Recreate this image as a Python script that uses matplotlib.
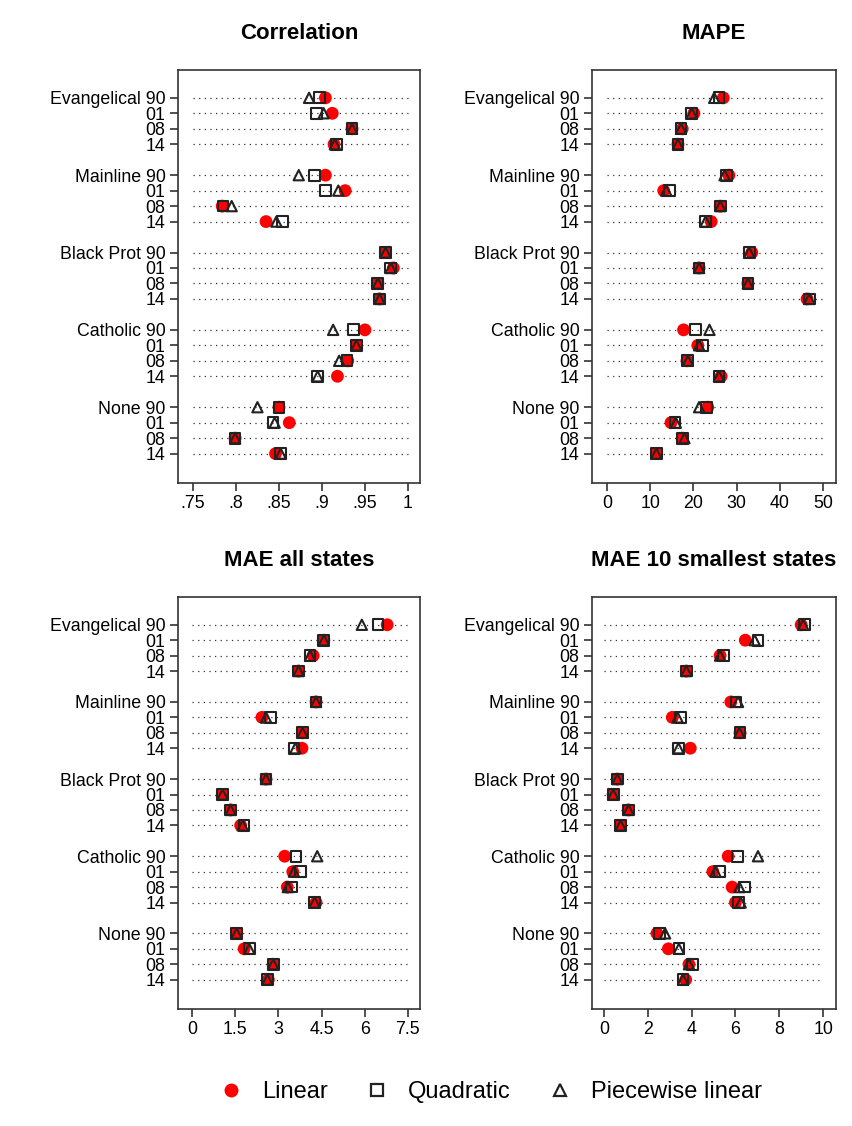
import matplotlib
matplotlib.use('Agg')
from matplotlib import pyplot as plt
from matplotlib.lines import Line2D

plt.rcParams['font.family'] = ['Liberation Sans', 'DejaVu Sans']

groups = ['Evangelical', 'Mainline', 'Black Prot', 'Catholic', 'None']
years = ['90', '01', '08', '14']

# values per panel, listed group by group (90, 01, 08, 14)
corr_linear = [0.904, 0.912, 0.935, 0.914,
               0.904, 0.927, 0.784, 0.835,
               0.974, 0.983, 0.965, 0.967,
               0.950, 0.940, 0.930, 0.918,
               0.850, 0.862, 0.799, 0.846]
corr_quad = [0.897, 0.894, 0.935, 0.917,
             0.891, 0.904, 0.785, 0.854,
             0.974, 0.980, 0.965, 0.967,
             0.937, 0.940, 0.929, 0.895,
             0.850, 0.843, 0.799, 0.852]
corr_piece = [0.885, 0.902, 0.935, 0.915,
              0.873, 0.919, 0.795, 0.847,
              0.974, 0.980, 0.965, 0.967,
              0.913, 0.940, 0.920, 0.895,
              0.825, 0.845, 0.799, 0.852]

mape_linear = [26.9, 20.1, 17.4, 16.4,
               28.2, 13.1, 26.2, 24.1,
               33.5, 21.3, 32.6, 46.3,
               17.7, 21.0, 18.5, 26.4,
               23.3, 14.8, 17.4, 11.4]
mape_quad = [25.9, 19.6, 17.1, 16.4,
             27.7, 14.5, 26.2, 22.7,
             32.9, 21.3, 32.6, 46.8,
             20.4, 22.1, 18.7, 25.9,
             23.0, 15.7, 17.4, 11.4]
mape_piece = [24.8, 19.6, 17.1, 16.4,
              27.2, 13.7, 26.2, 22.8,
              32.9, 21.3, 32.6, 46.8,
              23.7, 21.3, 18.7, 25.9,
              21.3, 15.9, 17.9, 11.4]

mae_linear = [6.78, 4.58, 4.21, 3.70,
              4.31, 2.43, 3.84, 3.82,
              2.57, 1.06, 1.34, 1.69,
              3.22, 3.50, 3.31, 4.31,
              1.55, 1.81, 2.82, 2.65]
mae_quad = [6.46, 4.58, 4.10, 3.70,
            4.31, 2.73, 3.84, 3.54,
            2.57, 1.06, 1.34, 1.81,
            3.61, 3.77, 3.45, 4.26,
            1.55, 2.01, 2.82, 2.62]
mae_piece = [5.90, 4.58, 4.10, 3.70,
             4.31, 2.57, 3.84, 3.59,
             2.57, 1.06, 1.34, 1.76,
             4.35, 3.54, 3.33, 4.26,
             1.55, 1.99, 2.82, 2.62]

small_linear = [9.00, 6.45, 5.30, 3.76,
                5.79, 3.12, 6.21, 3.94,
                0.61, 0.42, 1.12, 0.76,
                5.67, 4.97, 5.85, 6.00,
                2.42, 2.94, 3.88, 3.73]
small_quad = [9.15, 7.03, 5.45, 3.76,
              6.03, 3.51, 6.21, 3.39,
              0.61, 0.42, 1.12, 0.76,
              6.09, 5.27, 6.40, 6.15,
              2.52, 3.42, 4.03, 3.61]
small_piece = [9.09, 6.88, 5.30, 3.76,
               6.12, 3.36, 6.18, 3.40,
               0.61, 0.42, 1.12, 0.76,
               7.03, 5.09, 6.18, 6.24,
               2.79, 3.42, 3.88, 3.61]

panels = [
    ('Correlation', corr_linear, corr_quad, corr_piece,
     [0.75, 0.8, 0.85, 0.9, 0.95, 1.0],
     ['.75', '.8', '.85', '.9', '.95', '1'], (0.7326, 1.0140)),
    ('MAPE', mape_linear, mape_quad, mape_piece,
     [0, 10, 20, 30, 40, 50],
     ['0', '10', '20', '30', '40', '50'], (-3.5, 53.0)),
    ('MAE all states', mae_linear, mae_quad, mae_piece,
     [0, 1.5, 3, 4.5, 6, 7.5],
     ['0', '1.5', '3', '4.5', '6', '7.5'], (-0.486, 7.92)),
    ('MAE 10 smallest states', small_linear, small_quad, small_piece,
     [0, 2, 4, 6, 8, 10],
     ['0', '2', '4', '6', '8', '10'], (-0.545, 10.59)),
]

# axes boxes in pixels (left, top, right, bottom) on 852x1126
boxes = [(178, 70, 420, 483), (592, 70, 836, 483),
         (178, 597, 420, 1009), (592, 597, 836, 1009)]

W, H = 852, 1126
fig = plt.figure(figsize=(W / 100, H / 100), dpi=100)

ypos = []
ylabels = []
for g, name in enumerate(groups):
    for r, yr in enumerate(years):
        ypos.append(g * 5 + r)
        ylabels.append(f'{name} {yr}' if r == 0 else yr)

for (title, lin, quad, piece, ticks, tlabels, xlim), box in zip(panels, boxes):
    left, top, right, bottom = box
    ax = fig.add_axes([left / W, 1 - bottom / H,
                       (right - left) / W, (bottom - top) / H])

    for y in ypos:
        ax.plot([ticks[0], ticks[-1]], [y, y], color='#333333',
                linewidth=0.9, linestyle=(0, (1, 3.5)), zorder=1)

    ax.scatter(lin, ypos, s=85, color='red', edgecolors='none', zorder=3)
    ax.scatter(quad, ypos, s=60, marker='s', facecolors='none',
               edgecolors='#222222', linewidths=1.5, zorder=4)
    ax.scatter(piece, ypos, s=55, marker='^', facecolors='none',
               edgecolors='#222222', linewidths=1.5, zorder=5)

    ax.set_xlim(*xlim)
    ax.set_ylim(23 + 1.9, -1.8)
    ax.set_xticks(ticks)
    ax.set_xticklabels(tlabels)
    ax.set_yticks(ypos)
    ax.set_yticklabels(ylabels)
    ax.tick_params(labelsize=12.8, length=6, width=1.1, color='#222222',
                   pad=3)
    ax.tick_params(axis='y', pad=3)
    for sp in ax.spines.values():
        sp.set_linewidth(1.2)
        sp.set_color('#333333')
    ax.set_title(title, fontsize=16, fontweight='bold', pad=22)

handles = [
    Line2D([], [], linestyle='none', marker='o', markersize=10,
           markerfacecolor='red', markeredgecolor='none'),
    Line2D([], [], linestyle='none', marker='s', markersize=8,
           markerfacecolor='none', markeredgecolor='#222222',
           markeredgewidth=1.6),
    Line2D([], [], linestyle='none', marker='^', markersize=8,
           markerfacecolor='none', markeredgecolor='#222222',
           markeredgewidth=1.6),
]
fig.legend(handles, ['Linear', 'Quadratic', 'Piecewise linear'],
           loc='center', bbox_to_anchor=(0.576, 1 - 1092 / H), ncol=3,
           frameon=False, fontsize=17, handlelength=1.0,
           handletextpad=0.8, columnspacing=1.6)

fig.savefig('out.png', dpi=100)
